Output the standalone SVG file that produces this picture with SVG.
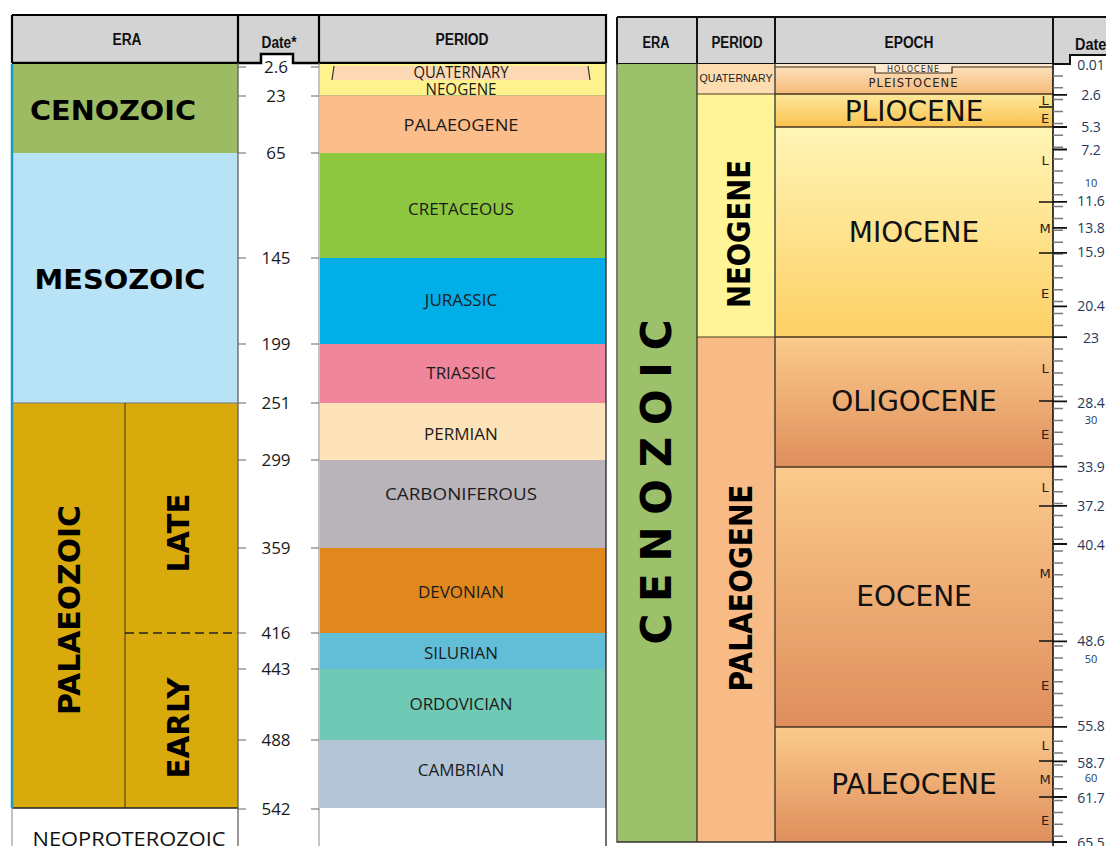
<svg xmlns="http://www.w3.org/2000/svg" width="1106" height="846" viewBox="0 0 1106 846">
<defs>
<linearGradient id="gPle" x1="0" y1="0" x2="0" y2="1"><stop offset="0" stop-color="#fde4c2"/><stop offset="1" stop-color="#f6ba78"/></linearGradient>
<linearGradient id="gPli" x1="0" y1="0" x2="0" y2="1"><stop offset="0" stop-color="#fde89a"/><stop offset="1" stop-color="#f9c352"/></linearGradient>
<linearGradient id="gMio" x1="0" y1="0" x2="0" y2="1"><stop offset="0" stop-color="#fff5b6"/><stop offset="1" stop-color="#fdd065"/></linearGradient>
<linearGradient id="gPal" x1="0" y1="0" x2="0" y2="1"><stop offset="0" stop-color="#fbca8c"/><stop offset="1" stop-color="#df8e5c"/></linearGradient>
<style>
.hd{font-family:"Liberation Sans",Arial,sans-serif;font-weight:bold;font-size:16px;fill:#111;text-anchor:middle}
.per{font-family:"Open Sans","DejaVu Sans",sans-serif;font-size:17px;fill:#1c1c1c;text-anchor:middle}
.dt{font-family:"Open Sans","DejaVu Sans",sans-serif;font-size:17px;fill:#1a1a1a;text-anchor:middle}
.era{font-family:"DejaVu Sans",Verdana,sans-serif;font-weight:bold;fill:#000;text-anchor:middle}
.ep{font-family:"DejaVu Sans",sans-serif;font-size:28px;fill:#111;text-anchor:middle}
.se{font-family:"DejaVu Sans",sans-serif;font-size:13px;fill:#222;text-anchor:middle}
.rd{font-family:"Open Sans","DejaVu Sans",sans-serif;font-size:14px;fill:#26395a;text-anchor:middle}
.rs{font-family:"Open Sans","DejaVu Sans",sans-serif;font-size:11px;fill:#26395a;text-anchor:middle}
.tk{stroke:#666;stroke-width:1.2;fill:none}
</style>
</defs>
<rect width="1106" height="846" fill="#fff"/>

<!-- LEFT CHART -->
<g id="left-header">
<rect x="12" y="15" width="594" height="48" fill="#d3d3d3"/>
<rect x="261" y="54" width="32" height="10" fill="#fff"/>
<path d="M12 15H606V63M12 15V63M238 15V63M319 15V63" stroke="#000" stroke-width="2.2" fill="none"/>
<path d="M12 63H261V54H293V63H606" stroke="#000" stroke-width="2.5" fill="none"/>
<text class="hd" x="127" y="45" textLength="29" lengthAdjust="spacingAndGlyphs">ERA</text>
<text class="hd" x="279" y="48" textLength="35" lengthAdjust="spacingAndGlyphs">Date*</text>
<text class="hd" x="462" y="45" textLength="53" lengthAdjust="spacingAndGlyphs">PERIOD</text>
</g>

<g id="left-eras">
<rect x="13" y="64" width="225" height="89" fill="#9cbb63"/>
<rect x="13" y="153" width="225" height="250" fill="#b8e2f6"/>
<rect x="13" y="403" width="225" height="405" fill="#d8aa0b"/>
<line x1="13" y1="403" x2="238" y2="403" stroke="#777" stroke-width="1"/>
<line x1="125" y1="403" x2="125" y2="808" stroke="#5a4712" stroke-width="1.2"/>
<line x1="125" y1="633" x2="238" y2="633" stroke="#222" stroke-width="1.3" stroke-dasharray="9,5"/>
<line x1="12" y1="808" x2="238" y2="808" stroke="#222" stroke-width="1.3"/>
<line x1="12" y1="64" x2="12" y2="808" stroke="#1a9ac2" stroke-width="2.5"/>
<line x1="12" y1="808" x2="12" y2="846" stroke="#999" stroke-width="1.2"/>
<text class="era" x="113" y="120" font-size="26" textLength="166" lengthAdjust="spacingAndGlyphs">CENOZOIC</text>
<text class="era" x="120" y="289" font-size="26" textLength="171" lengthAdjust="spacingAndGlyphs">MESOZOIC</text>
<text class="era" transform="translate(80,610) rotate(-90)" font-size="31" textLength="210" lengthAdjust="spacingAndGlyphs">PALAEOZOIC</text>
<text class="era" transform="translate(189,533) rotate(-90)" font-size="30" textLength="79" lengthAdjust="spacingAndGlyphs">LATE</text>
<text class="era" transform="translate(189,728) rotate(-90)" font-size="30" textLength="101" lengthAdjust="spacingAndGlyphs">EARLY</text>
<text x="129" y="846" font-family="Open Sans, DejaVu Sans, sans-serif" font-size="20" fill="#111" text-anchor="middle" textLength="193" lengthAdjust="spacingAndGlyphs">NEOPROTEROZOIC</text>
</g>

<g id="left-dates">
<line x1="238" y1="63" x2="238" y2="846" stroke="#555" stroke-width="1.2"/>
<line x1="319" y1="63" x2="319" y2="846" stroke="#888" stroke-width="1"/>
<path class="tk" d="M238 67h8M311 67h8M238 96h8M311 96h8M238 153h8M311 153h8M238 258h8M311 258h8M238 344h8M311 344h8M238 403h8M311 403h8M238 460h8M311 460h8M238 548h8M311 548h8M238 633h8M311 633h8M238 669h8M311 669h8M238 740h8M311 740h8M238 809h8M311 809h8"/>
<text class="dt" x="276" y="73">2.6</text>
<text class="dt" x="276" y="102">23</text>
<text class="dt" x="276" y="159">65</text>
<text class="dt" x="276" y="264">145</text>
<text class="dt" x="276" y="350">199</text>
<text class="dt" x="276" y="409">251</text>
<text class="dt" x="276" y="466">299</text>
<text class="dt" x="276" y="554">359</text>
<text class="dt" x="276" y="639">416</text>
<text class="dt" x="276" y="675">443</text>
<text class="dt" x="276" y="746">488</text>
<text class="dt" x="276" y="815">542</text>
</g>

<g id="left-periods">
<rect x="320" y="64" width="286" height="32" fill="#fdf28e"/>
<polygon points="334,66 588,66 590,80 332,80" fill="#fdd8b4"/>
<path d="M334 66L332 80M588 66L590 80" stroke="#333" stroke-width="1.2"/>
<line x1="320" y1="96" x2="606" y2="96" stroke="#777" stroke-width="0.8"/>
<rect x="320" y="96" width="286" height="57" fill="#fbbd8a"/>
<rect x="320" y="153" width="286" height="105" fill="#8dc63f"/>
<rect x="320" y="258" width="286" height="86" fill="#00aee8"/>
<rect x="320" y="344" width="286" height="59" fill="#f0869c"/>
<rect x="320" y="403" width="286" height="57" fill="#fde3b7"/>
<rect x="320" y="460" width="286" height="88" fill="#b9b4ba"/>
<rect x="320" y="548" width="286" height="85" fill="#e0881e"/>
<rect x="320" y="633" width="286" height="36" fill="#62bed7"/>
<rect x="320" y="669" width="286" height="71" fill="#6fc9b5"/>
<rect x="320" y="740" width="286" height="68" fill="#b4c5d7"/>
<line x1="606" y1="63" x2="606" y2="846" stroke="#222" stroke-width="1.3"/>
<text class="per" x="461" y="77.5" font-size="13" textLength="95" lengthAdjust="spacingAndGlyphs">QUATERNARY</text>
<text class="per" x="461" y="95" font-size="13" textLength="71" lengthAdjust="spacingAndGlyphs">NEOGENE</text>
<text class="per" x="461" y="131" textLength="115" lengthAdjust="spacingAndGlyphs">PALAEOGENE</text>
<text class="per" x="461" y="215">CRETACEOUS</text>
<text class="per" x="461" y="306">JURASSIC</text>
<text class="per" x="461" y="379">TRIASSIC</text>
<text class="per" x="461" y="440">PERMIAN</text>
<text class="per" x="461" y="500" textLength="152" lengthAdjust="spacingAndGlyphs">CARBONIFEROUS</text>
<text class="per" x="461" y="598">DEVONIAN</text>
<text class="per" x="461" y="659">SILURIAN</text>
<text class="per" x="461" y="710">ORDOVICIAN</text>
<text class="per" x="461" y="776">CAMBRIAN</text>
</g>

<!-- RIGHT CHART -->
<g id="right-header">
<rect x="617" y="17" width="489" height="47" fill="#d4d4d4"/>
<rect x="1070" y="55" width="36" height="10" fill="#fff"/>
<path d="M617 17H1106M617 17V64M697 17V64M775 17V64M1053 17V64" stroke="#111" stroke-width="2" fill="none"/>
<path d="M617 64H1070V55H1106" stroke="#111" stroke-width="2" fill="none"/>
<text class="hd" x="656" y="48" textLength="27" lengthAdjust="spacingAndGlyphs">ERA</text>
<text class="hd" x="737" y="48" textLength="51" lengthAdjust="spacingAndGlyphs">PERIOD</text>
<text class="hd" x="909" y="48" textLength="49" lengthAdjust="spacingAndGlyphs">EPOCH</text>
<text class="hd" x="1075" y="50" style="text-anchor:start" textLength="37" lengthAdjust="spacingAndGlyphs">Date*</text>
</g>

<g id="right-era">
<rect x="618" y="64" width="79" height="778" fill="#9dc16a"/>
<text class="era" transform="translate(671,482) rotate(-90)" font-size="42" textLength="325" lengthAdjust="spacing">CENOZOIC</text>
</g>

<g id="right-periods">
<rect x="697" y="64" width="78" height="30" fill="#fddcaf"/>
<rect x="697" y="94" width="78" height="243" fill="#fff598"/>
<rect x="697" y="337" width="78" height="505" fill="#f9bb85"/>
<path d="M697 94H775M697 337H775" stroke="#4a3a20" stroke-width="1.2"/>
<text x="736" y="82" font-family="Liberation Sans, Arial, sans-serif" font-size="11.5" fill="#222" text-anchor="middle" textLength="73" lengthAdjust="spacingAndGlyphs">QUATERNARY</text>
<text class="era" transform="translate(750,234) rotate(-90)" font-size="32" textLength="148" lengthAdjust="spacingAndGlyphs">NEOGENE</text>
<text class="era" transform="translate(752,588) rotate(-90)" font-size="32" textLength="207" lengthAdjust="spacingAndGlyphs">PALAEOGENE</text>
</g>

<g id="right-epochs">
<rect x="775" y="64" width="278" height="30" fill="url(#gPle)"/>
<path d="M775 64H1053V67H952V73H875V67H775Z" fill="#fde8cf"/>
<path d="M775 67H875V73H952V67H1053" stroke="#3a2a15" stroke-width="1.2" fill="none"/>
<rect x="775" y="94" width="278" height="33" fill="url(#gPli)"/>
<rect x="775" y="127" width="278" height="210" fill="url(#gMio)"/>
<rect x="775" y="337" width="278" height="130" fill="url(#gPal)"/>
<rect x="775" y="467" width="278" height="260" fill="url(#gPal)"/>
<rect x="775" y="727" width="278" height="115" fill="url(#gPal)"/>
<path d="M775 94H1053M775 127H1053M775 337H1053M775 467H1053M775 727H1053" stroke="#4a3520" stroke-width="1.3"/>
<text x="913" y="71.5" font-family="DejaVu Sans, sans-serif" font-size="8" fill="#333" text-anchor="middle" textLength="52" lengthAdjust="spacing">HOLOCENE</text>
<text x="913" y="87" font-family="DejaVu Sans, sans-serif" font-size="11.5" fill="#222" text-anchor="middle" textLength="89" lengthAdjust="spacing">PLEISTOCENE</text>
<text class="ep" x="914" y="121">PLIOCENE</text>
<text class="ep" x="914" y="242">MIOCENE</text>
<text class="ep" x="914" y="411">OLIGOCENE</text>
<text class="ep" x="914" y="606">EOCENE</text>
<text class="ep" x="914" y="794">PALEOCENE</text>
<path d="M1039 107H1052M1039 202H1053M1039 253H1053M1039 401H1053M1039 506H1053M1039 641H1053M1039 761H1053M1039 797H1053" stroke="#111" stroke-width="1.6"/>
<text class="se" x="1045" y="105">L</text>
<text class="se" x="1045" y="123">E</text>
<text class="se" x="1045" y="165">L</text>
<text class="se" x="1045" y="233">M</text>
<text class="se" x="1045" y="298">E</text>
<text class="se" x="1045" y="373">L</text>
<text class="se" x="1045" y="439">E</text>
<text class="se" x="1045" y="492">L</text>
<text class="se" x="1045" y="578">M</text>
<text class="se" x="1045" y="690">E</text>
<text class="se" x="1045" y="750">L</text>
<text class="se" x="1045" y="784">M</text>
<text class="se" x="1045" y="825">E</text>
</g>

<g id="right-dates">
<path d="M617 64V842H1053M697 64V842M775 64V842" stroke="#333" stroke-width="1.3" fill="none"/>
<line x1="1053" y1="64" x2="1053" y2="846" stroke="#111" stroke-width="1.6"/>
<path stroke="#7a7a7a" stroke-width="1.5" fill="none" d="M1053 75.9h10M1053 87.8h10M1053 99.6h10M1053 111.5h10M1053 123.4h10M1053 135.3h10M1053 147.2h10M1053 159h10M1053 170.9h10M1053 182.8h10M1053 194.7h10M1053 206.6h10M1053 218.4h10M1053 230.3h10M1053 242.2h10M1053 254.1h10M1053 266h10M1053 277.8h10M1053 289.7h10M1053 301.6h10M1053 313.5h10M1053 325.4h10M1053 349.1h10M1053 361h10M1053 372.9h10M1053 384.8h10M1053 396.6h10M1053 408.5h10M1053 420.4h10M1053 432.3h10M1053 444.2h10M1053 456h10M1053 479.8h10M1053 491.7h10M1053 503.6h10M1053 515.4h10M1053 527.3h10M1053 539.2h10M1053 551.1h10M1053 563h10M1053 574.8h10M1053 586.7h10M1053 598.6h10M1053 610.5h10M1053 622.4h10M1053 634.2h10M1053 646.1h10M1053 658h10M1053 669.9h10M1053 681.8h10M1053 693.6h10M1053 705.5h10M1053 717.4h10M1053 741.2h10M1053 753h10M1053 764.9h10M1053 776.8h10M1053 788.7h10M1053 800.6h10M1053 812.4h10M1053 824.3h10M1053 836.2h10"/>
<path stroke="#111" stroke-width="1.8" fill="none" d="M1053 94.9h14M1053 127h14M1053 149.5h14M1053 201.8h14M1053 227.9h14M1053 252.9h14M1053 306.4h14M1053 337.2h14M1053 401.4h14M1053 466.7h14M1053 505.9h14M1053 544h14M1053 641.4h14M1053 726.9h14M1053 761.4h14M1053 797h14M1053 842h14"/>
<text class="rd" x="1091" y="70">0.01</text>
<text class="rd" x="1091" y="100">2.6</text>
<text class="rd" x="1091" y="132">5.3</text>
<text class="rd" x="1091" y="155">7.2</text>
<text class="rs" x="1091" y="187">10</text>
<text class="rd" x="1091" y="206">11.6</text>
<text class="rd" x="1091" y="233">13.8</text>
<text class="rd" x="1091" y="257">15.9</text>
<text class="rd" x="1091" y="311">20.4</text>
<text class="rd" x="1091" y="343">23</text>
<text class="rd" x="1091" y="408">28.4</text>
<text class="rs" x="1091" y="424">30</text>
<text class="rd" x="1091" y="472">33.9</text>
<text class="rd" x="1091" y="511">37.2</text>
<text class="rd" x="1091" y="550">40.4</text>
<text class="rd" x="1091" y="646">48.6</text>
<text class="rs" x="1091" y="663">50</text>
<text class="rd" x="1091" y="731">55.8</text>
<text class="rd" x="1091" y="768">58.7</text>
<text class="rs" x="1091" y="782">60</text>
<text class="rd" x="1091" y="803">61.7</text>
<text class="rd" x="1091" y="848">65.5</text>
</g>
</svg>
